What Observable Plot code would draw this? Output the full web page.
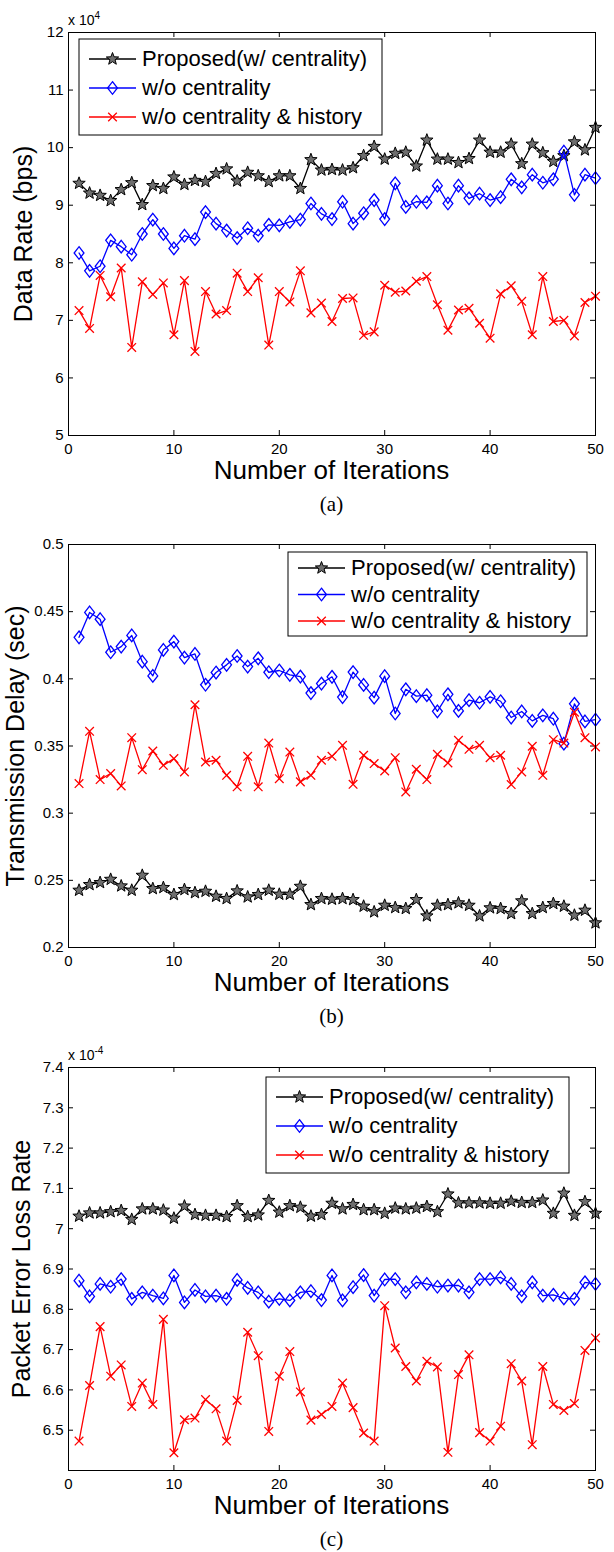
<!DOCTYPE html>
<html><head><meta charset="utf-8">
<script src="https://cdn.jsdelivr.net/npm/d3@7"></script>
<script src="https://cdn.jsdelivr.net/npm/@observablehq/plot@0.6"></script>
<style>
body{margin:0;background:#fff;}
#root{position:relative;width:614px;height:1552px;font-family:"Liberation Sans",Arial,sans-serif;color:#000;overflow:hidden;}
.abs{position:absolute;white-space:nowrap;line-height:1;}
</style></head><body><div id="root"></div>
<script>
// ---------------- data ----------------
const iterations = d3.range(1, 51);
const seriesNames = ["Proposed(w/ centrality)", "w/o centrality", "w/o centrality & history"];
const seriesColors = ["#000000", "#0000ff", "#ff0000"];
const xTicks = [0, 10, 20, 30, 40, 50];
const rateTicks = [5, 6, 7, 8, 9, 10, 11, 12];
const delayTicks = [0.2, 0.25, 0.3, 0.35, 0.4, 0.45, 0.5];
const lossTicks = [6.5, 6.6, 6.7, 6.8, 6.9, 7.0, 7.1, 7.2, 7.3, 7.4];
const panelLabels = ["Data Rate (bps)", "Transmission Delay (sec)", "Packet Error Loss Rate"];
const xLabel = "Number of Iterations";
const captions = ["(a)", "(b)", "(c)"];

// (a) data rate, x 10^4 bps
const rateProposed = [9.38,9.21,9.17,9.08,9.27,9.39,9.01,9.34,9.29,9.49,9.36,9.43,9.41,9.55,9.63,9.42,9.57,9.51,9.41,9.51,9.51,9.29,9.79,9.61,9.62,9.61,9.65,9.86,10.02,9.80,9.90,9.92,9.68,10.13,9.80,9.80,9.74,9.81,10.13,9.92,9.92,10.06,9.72,10.06,9.91,9.76,9.86,10.10,9.96,10.35];
const rateNoCentrality = [8.17,7.86,7.94,8.39,8.28,8.14,8.50,8.75,8.50,8.25,8.47,8.41,8.88,8.68,8.56,8.43,8.60,8.47,8.66,8.65,8.71,8.75,9.03,8.85,8.76,9.06,8.68,8.86,9.09,8.76,9.38,8.97,9.06,9.05,9.34,9.03,9.34,9.12,9.20,9.09,9.14,9.45,9.31,9.53,9.39,9.45,9.93,9.18,9.53,9.47];
const rateNoHistory = [7.17,6.86,7.78,7.41,7.91,6.53,7.67,7.45,7.65,6.75,7.69,6.46,7.50,7.11,7.17,7.82,7.50,7.74,6.57,7.50,7.32,7.86,7.13,7.30,6.98,7.38,7.39,6.74,6.80,7.61,7.49,7.51,7.68,7.76,7.27,6.83,7.18,7.21,6.95,6.69,7.46,7.60,7.33,6.75,7.76,6.98,7.00,6.73,7.31,7.42];

// (b) transmission delay, sec
const delayProposed = [0.2426,0.2468,0.2483,0.2507,0.2458,0.2426,0.2537,0.2438,0.2446,0.2394,0.2431,0.2408,0.2418,0.2381,0.2364,0.2421,0.2376,0.2394,0.2426,0.2396,0.2396,0.2455,0.2319,0.2364,0.2359,0.2364,0.2356,0.2307,0.2265,0.2314,0.2297,0.2290,0.2356,0.2235,0.2314,0.2319,0.2332,0.2314,0.2235,0.2295,0.2290,0.2252,0.2347,0.2252,0.2297,0.2327,0.2307,0.2240,0.2277,0.2183];
const delayNoCentrality = [0.4309,0.4494,0.4444,0.4198,0.4240,0.4323,0.4128,0.4022,0.4215,0.4277,0.4158,0.4185,0.3956,0.4047,0.4104,0.4170,0.4091,0.4153,0.4049,0.4062,0.4030,0.4017,0.3894,0.3965,0.4015,0.3864,0.4050,0.3955,0.3860,0.4020,0.3742,0.3922,0.3871,0.3878,0.3758,0.3885,0.3761,0.3841,0.3822,0.3866,0.3833,0.3712,0.3757,0.3687,0.3728,0.3703,0.3517,0.3814,0.3683,0.3696];
const delayNoHistory = [0.3220,0.3609,0.3250,0.3295,0.3203,0.3562,0.3324,0.3463,0.3356,0.3406,0.3307,0.3807,0.3381,0.3394,0.3282,0.3196,0.3423,0.3196,0.3522,0.3257,0.3455,0.3233,0.3282,0.3394,0.3423,0.3505,0.3215,0.3431,0.3369,0.3314,0.3413,0.3158,0.3327,0.3250,0.3438,0.3374,0.3542,0.3475,0.3505,0.3413,0.3431,0.3213,0.3307,0.3498,0.3282,0.3547,0.3522,0.3752,0.3562,0.3493];

// (c) packet error loss rate, x 10^-4
const lossProposed = [7.031,7.039,7.039,7.042,7.045,7.023,7.049,7.049,7.046,7.026,7.056,7.035,7.033,7.033,7.030,7.057,7.030,7.034,7.070,7.041,7.057,7.053,7.031,7.035,7.063,7.049,7.060,7.047,7.047,7.038,7.051,7.049,7.051,7.055,7.042,7.086,7.064,7.064,7.064,7.063,7.063,7.068,7.065,7.065,7.071,7.038,7.088,7.033,7.067,7.038];
const lossNoCentrality = [6.871,6.832,6.863,6.856,6.875,6.826,6.842,6.834,6.827,6.884,6.817,6.848,6.832,6.834,6.826,6.873,6.853,6.842,6.819,6.826,6.822,6.842,6.845,6.823,6.884,6.822,6.855,6.885,6.834,6.874,6.875,6.842,6.867,6.863,6.856,6.859,6.859,6.842,6.875,6.875,6.879,6.863,6.832,6.867,6.834,6.836,6.827,6.826,6.867,6.863];
const lossNoHistory = [6.473,6.611,6.757,6.634,6.662,6.559,6.617,6.564,6.775,6.444,6.526,6.530,6.576,6.553,6.473,6.574,6.743,6.685,6.497,6.634,6.695,6.595,6.525,6.539,6.559,6.617,6.556,6.493,6.473,6.809,6.704,6.658,6.622,6.671,6.657,6.445,6.638,6.687,6.494,6.473,6.510,6.665,6.622,6.464,6.658,6.564,6.549,6.566,6.698,6.729];

// ---------------- symbols ----------------
const starSym = {draw(ctx, size) {
  const R = Math.sqrt(size / Math.PI), r = R * 0.42;
  for (let i = 0; i < 10; i++) {
    const a = -Math.PI / 2 + i * Math.PI / 5, rr = i % 2 ? r : R;
    const x = rr * Math.cos(a), y = rr * Math.sin(a);
    if (i) ctx.lineTo(x, y); else ctx.moveTo(x, y);
  }
  ctx.closePath();
}};
const diamondSym = {draw(ctx, size) {
  const R = Math.sqrt(size / Math.PI), w = R * 0.78;
  ctx.moveTo(0, -R); ctx.lineTo(w, 0); ctx.lineTo(0, R); ctx.lineTo(-w, 0); ctx.closePath();
}};
const timesSym = {draw(ctx, size) {
  const R = Math.sqrt(size / Math.PI);
  ctx.moveTo(-R, -R); ctx.lineTo(R, R); ctx.moveTo(-R, R); ctx.lineTo(R, -R);
}};
const symbols = [starSym, diamondSym, timesSym];
const symR = [6.5, 6.3, 4.3];
const symFill = ["#6e6e6e", "none", "none"];

// ---------------- layout ----------------
const root = document.getElementById("root");
const PLOT_L = 68, PLOT_R = 595, PLOT_H = 403;

function addDiv(html, css) {
  const d = document.createElement("div");
  d.className = "abs";
  d.innerHTML = html;
  Object.assign(d.style, css);
  root.appendChild(d);
  return d;
}

function makePanel({svgTop, svgH, mt, series, yDomain, yTicks, yFormat}) {
  const mb = svgH - mt - PLOT_H;
  const plotW = PLOT_R - PLOT_L;
  const marks = [
    Plot.axisX({ticks: xTicks, tickSize: 0, tickPadding: 8, label: null}),
    Plot.axisY({ticks: yTicks, tickSize: 0, tickPadding: 5, tickFormat: yFormat, label: null}),
    Plot.tickX(xTicks, {x: d => d, insetTop: PLOT_H - 5, stroke: "#000"}),
    Plot.tickX(xTicks, {x: d => d, insetBottom: PLOT_H - 5, stroke: "#000"}),
    Plot.tickY(yTicks, {y: d => d, insetLeft: plotW - 5, stroke: "#000"}),
    Plot.tickY(yTicks, {y: d => d, insetRight: plotW - 5, stroke: "#000"})
  ];
  series.forEach((vals, i) => {
    const rows = iterations.map((it, k) => ({iter: it, v: vals[k]}));
    marks.push(Plot.line(rows, {x: "iter", y: "v", stroke: seriesColors[i], strokeWidth: 1.3}));
    marks.push(Plot.dot(rows, {x: "iter", y: "v", symbol: symbols[i], r: symR[i],
      stroke: seriesColors[i], fill: symFill[i], strokeWidth: i === 0 ? 1 : 1.3}));
  });
  marks.push(Plot.frame({stroke: "#000", strokeWidth: 1}));
  const svg = Plot.plot({
    width: 614, height: svgH,
    marginTop: mt, marginBottom: mb, marginLeft: PLOT_L, marginRight: 614 - PLOT_R,
    style: {fontFamily: "'Liberation Sans', Arial, sans-serif", fontSize: "15px", color: "#000", background: "transparent", overflow: "visible"},
    x: {domain: [0, 50]},
    y: {domain: yDomain},
    marks
  });
  svg.style.position = "absolute";
  svg.style.left = "0px";
  svg.style.top = svgTop + "px";
  root.appendChild(svg);
}

function makeLegend({left, top, w, h, firstY, step}) {
  const svg = d3.create("svg")
    .attr("width", w + 2).attr("height", h + 2)
    .style("position", "absolute").style("left", (left - 1) + "px").style("top", (top - 1) + "px")
    .style("font-family", "'Liberation Sans', Arial, sans-serif");
  svg.append("rect").attr("x", 1).attr("y", 1).attr("width", w).attr("height", h)
    .attr("fill", "#fff").attr("stroke", "#000").attr("stroke-width", 1);
  seriesNames.forEach((name, i) => {
    const y = 1 + firstY + i * step;
    svg.append("line").attr("x1", 11).attr("x2", 58).attr("y1", y).attr("y2", y)
      .attr("stroke", seriesColors[i]).attr("stroke-width", 1.3);
    svg.append("path").attr("d", d3.symbol(symbols[i], Math.PI * symR[i] * symR[i])())
      .attr("transform", `translate(34.5,${y})`)
      .attr("stroke", seriesColors[i]).attr("fill", symFill[i]).attr("stroke-width", i === 0 ? 1 : 1.3);
    svg.append("text").attr("x", 64).attr("y", y).attr("dy", "0.34em")
      .attr("font-size", 22).attr("fill", "#000").text(name);
  });
  root.appendChild(svg.node());
}

const panels = [
  {svgTop: 0, svgH: 480, mt: 32, series: [rateProposed, rateNoCentrality, rateNoHistory],
   yDomain: [5, 12], yTicks: rateTicks, yFormat: d => String(d),
   legend: {left: 79, top: 39, w: 303, h: 96, firstY: 20, step: 29},
   ylabX: 23, exp: {top: 11, sup: "4"}},
  {svgTop: 520, svgH: 470, mt: 24, series: [delayProposed, delayNoCentrality, delayNoHistory],
   yDomain: [0.2, 0.5], yTicks: delayTicks, yFormat: d => String(+d.toFixed(2)),
   legend: {left: 288, top: 552, w: 299, h: 84, firstY: 16, step: 26.5},
   ylabX: 15, exp: null},
  {svgTop: 1040, svgH: 470, mt: 27, series: [lossProposed, lossNoCentrality, lossNoHistory],
   yDomain: [6.4, 7.4], yTicks: lossTicks, yFormat: d => String(+d.toFixed(1)),
   legend: {left: 266, top: 1077, w: 303, h: 96, firstY: 20, step: 29},
   ylabX: 21, exp: {top: 1046, sup: "-4"}}
];

panels.forEach((p, i) => {
  makePanel(p);
  const plotTop = p.svgTop + p.mt, plotBottom = plotTop + PLOT_H;
  makeLegend(p.legend);
  // y label
  addDiv(panelLabels[i], {left: p.ylabX + "px", top: (plotTop + PLOT_H / 2) + "px",
    fontSize: "25px", transform: "translate(-50%,-50%) rotate(-90deg)"});
  // x label
  addDiv(xLabel, {left: ((PLOT_L + PLOT_R) / 2) + "px", top: (plotBottom + 35) + "px",
    fontSize: "26px", transform: "translate(-50%,-50%)"});
  // caption
  addDiv(captions[i], {left: ((PLOT_L + PLOT_R) / 2) + "px", top: (plotBottom + 69) + "px",
    fontSize: "21px", fontFamily: "'Liberation Serif','Times New Roman',serif", transform: "translate(-50%,-50%)"});
  // exponent
  if (p.exp) addDiv(`x 10<sup style="font-size:10px;vertical-align:6px">${p.exp.sup}</sup>`,
    {left: "68px", top: p.exp.top + "px", fontSize: "14px"});
});
</script></body></html>
